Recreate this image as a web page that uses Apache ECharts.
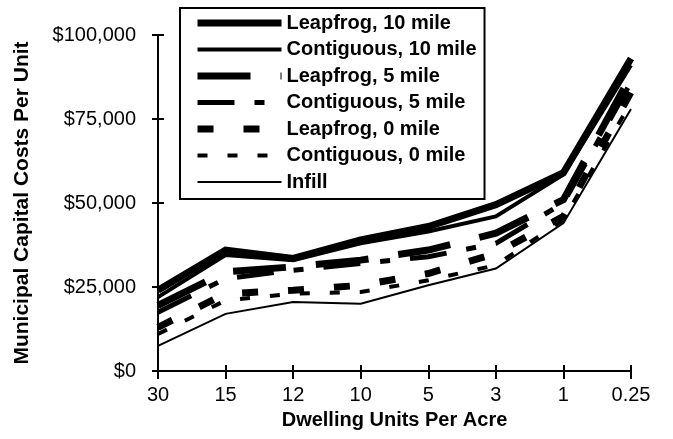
<!DOCTYPE html>
<html>
<head>
<meta charset="utf-8">
<script src="https://cdn.jsdelivr.net/npm/echarts@6/dist/echarts.min.js"></script>
<style>
html,body{margin:0;padding:0;background:#fff;}
#chart{width:673px;height:439px;}
</style>
</head>
<body>
<div id="chart"></div>
<script>
const categories = ['30', '15', '12', '10', '5', '3', '1', '0.25'];
const seriesNames = ['Leapfrog, 10 mile', 'Contiguous, 10 mile', 'Leapfrog, 5 mile', 'Contiguous, 5 mile', 'Leapfrog, 0 mile', 'Contiguous, 0 mile', 'Infill'];
const leapfrog10 = [24000, 36000, 33500, 39000, 43000, 49500, 59000, 93000];
const contiguous10 = [22000, 34500, 33000, 38000, 41500, 46000, 58500, 91000];
const leapfrog5 = [19500, 29500, 31000, 33000, 36000, 41000, 51000, 88000];
const contiguous5 = [17500, 27500, 30000, 32000, 34000, 38000, 50000, 86000];
const leapfrog0 = [13000, 23000, 24000, 25500, 29000, 35000, 46000, 83000];
const contiguous0 = [11000, 21000, 23000, 23500, 27000, 31500, 45000, 80000];
const infill = [7500, 17000, 20500, 20000, 25500, 30500, 44000, 78000];
const yTicks = [0, 25000, 50000, 75000, 100000];

const values = [leapfrog10, contiguous10, leapfrog5, contiguous5, leapfrog0, contiguous0, infill];
const styles = [
  {width: 7, type: 'solid'},
  {width: 4, type: 'solid'},
  {width: 7, type: [53, 30]},
  {width: 5, type: [37, 20, 10, 20]},
  {width: 7, type: [16, 30]},
  {width: 4, type: [10, 20]},
  {width: 2, type: 'solid'}
];
const FONT = '"Liberation Sans", Arial, sans-serif';

const chart = echarts.init(document.getElementById('chart'));
const yMin = yTicks[0], yMax = yTicks[yTicks.length - 1], yInt = yTicks[1] - yTicks[0];
chart.setOption({
  animation: false,
  backgroundColor: '#fff',
  textStyle: {fontFamily: FONT, color: '#000'},
  grid: {left: 158, right: 42, top: 35, bottom: 68, outerBoundsMode: 'none'},
  legend: {
    orient: 'vertical',
    left: 180, top: 8,
    padding: [5, 8, 7, 14],
    itemWidth: 84, itemHeight: 14, itemGap: 6.5,
    borderColor: '#000', borderWidth: 2, backgroundColor: '#fff',
    itemStyle: {color: 'transparent', borderWidth: 0, opacity: 0},
    textStyle: {fontFamily: FONT, fontSize: 20, fontWeight: 'bold', color: '#000', lineHeight: 20},
    data: seriesNames.map((n, i) => ({
      name: n,
      itemStyle: {color: 'transparent', borderWidth: 0, opacity: 0},
      lineStyle: {color: '#000', width: styles[i].width, type: styles[i].type, cap: 'butt', opacity: 1}
    }))
  },
  xAxis: [{
    type: 'category', data: categories, boundaryGap: false,
    name: 'Dwelling Units Per Acre', nameLocation: 'middle', nameGap: 39,
    nameTextStyle: {fontFamily: FONT, fontSize: 20, fontWeight: 'bold', color: '#000'},
    axisLine: {lineStyle: {color: '#000', width: 2}},
    axisTick: {show: true, length: 8, lineStyle: {color: '#000', width: 2}},
    axisLabel: {fontFamily: FONT, fontSize: 20, color: '#000', margin: 14},
    splitLine: {show: false}
  }, {
    type: 'category', data: categories, boundaryGap: false, position: 'bottom',
    axisLine: {show: false},
    axisTick: {show: true, inside: true, length: 6, lineStyle: {color: '#000', width: 2}},
    axisLabel: {show: false}, splitLine: {show: false}
  }],
  yAxis: [{
    type: 'value', min: yMin, max: yMax, interval: yInt,
    name: 'Municipal Capital Costs Per Unit', nameLocation: 'middle', nameGap: 125,
    nameTextStyle: {fontFamily: FONT, fontSize: 21, fontWeight: 'bold', color: '#000'},
    axisLine: {show: true, lineStyle: {color: '#000', width: 2}},
    axisTick: {show: true, length: 6, lineStyle: {color: '#000', width: 2}},
    axisLabel: {fontFamily: FONT, fontSize: 20, color: '#000', margin: 22,
      formatter: v => '$' + v.toLocaleString('en-US')},
    splitLine: {show: false}
  }, {
    type: 'value', min: yMin, max: yMax, interval: yInt, position: 'left',
    axisLine: {show: false},
    axisTick: {show: true, inside: true, length: 6, lineStyle: {color: '#000', width: 2}},
    axisLabel: {show: false}, splitLine: {show: false}
  }],
  series: seriesNames.map((n, i) => ({
    name: n, type: 'line', data: values[i], symbol: 'none',
    color: '#000',
    lineStyle: {color: '#000', width: styles[i].width, type: styles[i].type, cap: 'butt', join: 'miter'}
  }))
});
</script>
</body>
</html>
